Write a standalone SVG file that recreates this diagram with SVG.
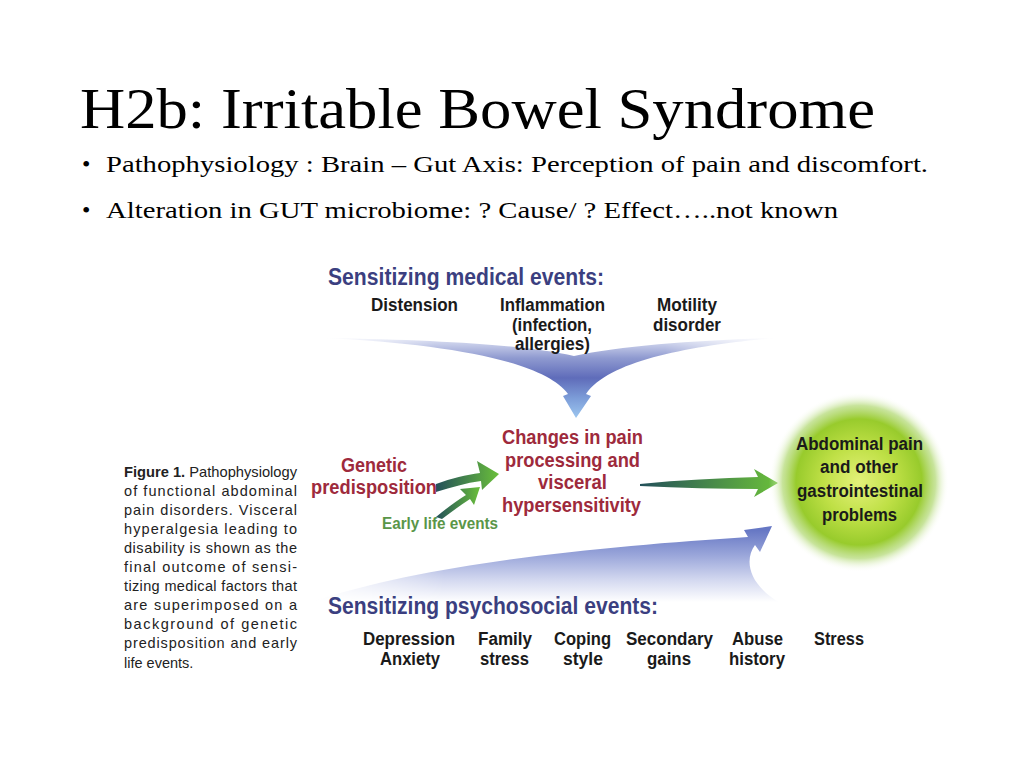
<svg xmlns="http://www.w3.org/2000/svg" width="1024" height="768" viewBox="0 0 1024 768">
<defs>
<style>
.title{font-family:"Liberation Serif",serif;font-size:56px;fill:#000}
.bul{font-family:"Liberation Serif",serif;font-size:24px;fill:#000}
.hd{font-family:"Liberation Sans",Arial,sans-serif;font-size:23px;font-weight:bold;fill:#3b3f80}
.it{font-family:"Liberation Sans",Arial,sans-serif;font-size:18px;font-weight:bold;fill:#1a1a1a}
.red{font-family:"Liberation Sans",Arial,sans-serif;font-size:20px;font-weight:bold;fill:#9e2a3c}
.grn{font-family:"Liberation Sans",Arial,sans-serif;font-size:16px;font-weight:bold;fill:#5a9648}
.cap{font-family:"Liberation Sans",Arial,sans-serif;font-size:14.5px;fill:#222}
</style>
<linearGradient id="funV" gradientUnits="userSpaceOnUse" x1="0" y1="338" x2="0" y2="418">
<stop offset="0" stop-color="#dfe3f4"/>
<stop offset="0.25" stop-color="#8f9ad0"/>
<stop offset="0.5" stop-color="#5f6cba"/>
<stop offset="0.75" stop-color="#7c9cd8"/>
<stop offset="1" stop-color="#9cc6ef"/>
</linearGradient>
<linearGradient id="fadeH" x1="0" y1="0" x2="1" y2="0">
<stop offset="0" stop-color="#000"/>
<stop offset="0.25" stop-color="#fff"/>
<stop offset="0.75" stop-color="#fff"/>
<stop offset="1" stop-color="#000"/>
</linearGradient>
<mask id="m1" maskUnits="userSpaceOnUse" x="300" y="330" width="500" height="100">
<rect x="320" y="330" width="460" height="100" fill="url(#fadeH)"/>
</mask>
<linearGradient id="lowG" gradientUnits="userSpaceOnUse" x1="0" y1="530" x2="0" y2="602">
<stop offset="0" stop-color="#6677c4"/>
<stop offset="0.35" stop-color="#9aa6da"/>
<stop offset="0.7" stop-color="#d4d9f0"/>
<stop offset="1" stop-color="#ffffff"/>
</linearGradient>
<linearGradient id="lowH" x1="0" y1="0" x2="1" y2="0">
<stop offset="0" stop-color="#000"/>
<stop offset="0.3" stop-color="#fff"/>
<stop offset="1" stop-color="#fff"/>
</linearGradient>
<mask id="m2" maskUnits="userSpaceOnUse" x="300" y="520" width="500" height="90">
<rect x="300" y="520" width="480" height="90" fill="url(#lowH)"/>
</mask>
<linearGradient id="ga" x1="0" y1="0" x2="1" y2="0">
<stop offset="0" stop-color="#23505a"/>
<stop offset="1" stop-color="#6abf3a"/>
</linearGradient>
<radialGradient id="glow" cx="0.5" cy="0.5" r="0.5">
<stop offset="0" stop-color="#e4f17a"/>
<stop offset="0.4" stop-color="#bfe046"/>
<stop offset="0.7" stop-color="#98cb2c"/>
<stop offset="0.85" stop-color="#b0d870" stop-opacity="0.7"/>
<stop offset="1" stop-color="#ffffff" stop-opacity="0"/>
</radialGradient>
</defs>
<rect width="1024" height="768" fill="#fff"/>

<g id="title">
<text class="title" x="80" y="128" textLength="795" lengthAdjust="spacingAndGlyphs">H2b: Irritable Bowel Syndrome</text>
</g>
<g id="bullets">
<text class="bul" x="82" y="172">•</text>
<text class="bul" x="106" y="172" textLength="822" lengthAdjust="spacingAndGlyphs">Pathophysiology :  Brain – Gut Axis: Perception of pain and discomfort.</text>
<text class="bul" x="82" y="218">•</text>
<text class="bul" x="106" y="218" textLength="732" lengthAdjust="spacingAndGlyphs">Alteration in GUT microbiome: ?  Cause/ ? Effect…..not known</text>
</g>

<g id="connectors">
<path mask="url(#m1)" d="M 325,338 C 450,340 530,346 574,356 C 620,346 700,340 775,338 C 690,346 610,360 586,394 L 591,396 L 576,418 L 563,396 L 568,394 C 545,362 450,344 325,338 Z" fill="url(#funV)"/>
<path mask="url(#m2)" d="M 312,602 C 430,562 610,546 748,537 L 744,530 L 772,526 L 760,552 L 755,545 C 744,560 748,585 782,604 Z" fill="url(#lowG)"/>
<path d="M 436,484 C 452,478 466,475 480,473 L 477,461 L 499,474 L 482,490 L 481,481 C 466,483 452,487 436,492 Z" fill="url(#ga)"/>
<path d="M 436,517 C 448,507 458,500 466,495 L 460,489 L 480,487 L 474,505 L 470,499 C 461,505 451,512 442,519 Z" fill="url(#ga)"/>
<path d="M 640,484 C 680,480 720,478 758,477 L 754,469 L 778,483 L 754,497 L 758,489 C 720,489 680,488 640,486 Z" fill="url(#ga)"/>
</g>

<g id="medical">
<text class="hd" x="328" y="285" textLength="276" lengthAdjust="spacingAndGlyphs">Sensitizing medical events:</text>
<text class="it" x="371" y="311" textLength="87" lengthAdjust="spacingAndGlyphs">Distension</text>
<text class="it" x="500" y="311" textLength="105" lengthAdjust="spacingAndGlyphs">Inflammation</text>
<text class="it" x="512" y="331" textLength="80" lengthAdjust="spacingAndGlyphs">(infection,</text>
<text class="it" x="515" y="350" textLength="75" lengthAdjust="spacingAndGlyphs">allergies)</text>
<text class="it" x="657" y="311" textLength="60" lengthAdjust="spacingAndGlyphs">Motility</text>
<text class="it" x="653" y="331" textLength="68" lengthAdjust="spacingAndGlyphs">disorder</text>
</g>

<g id="genetic">
<text class="red" x="341" y="472" textLength="66" lengthAdjust="spacingAndGlyphs">Genetic</text>
<text class="red" x="311" y="494" textLength="126" lengthAdjust="spacingAndGlyphs">predisposition</text>
</g>
<g id="early">
<text class="grn" x="382" y="529" textLength="116" lengthAdjust="spacingAndGlyphs">Early life events</text>
</g>
<g id="changes">
<text class="red" x="502" y="444" textLength="141" lengthAdjust="spacingAndGlyphs">Changes in pain</text>
<text class="red" x="505" y="467" textLength="135" lengthAdjust="spacingAndGlyphs">processing and</text>
<text class="red" x="538" y="489" textLength="69" lengthAdjust="spacingAndGlyphs">visceral</text>
<text class="red" x="502" y="512" textLength="139" lengthAdjust="spacingAndGlyphs">hypersensitivity</text>
</g>
<g id="outcome">
<circle cx="859" cy="482" r="90" fill="url(#glow)"/>
<text class="it" x="796" y="450" textLength="127" lengthAdjust="spacingAndGlyphs">Abdominal pain</text>
<text class="it" x="820" y="473" textLength="78" lengthAdjust="spacingAndGlyphs">and other</text>
<text class="it" x="797" y="497" textLength="126" lengthAdjust="spacingAndGlyphs">gastrointestinal</text>
<text class="it" x="822" y="521" textLength="75" lengthAdjust="spacingAndGlyphs">problems</text>
</g>

<g id="psychosocial">
<text class="hd" x="328" y="614" textLength="330" lengthAdjust="spacingAndGlyphs">Sensitizing psychosocial events:</text>
<text class="it" x="363" y="645" textLength="92" lengthAdjust="spacingAndGlyphs">Depression</text>
<text class="it" x="380" y="665" textLength="60" lengthAdjust="spacingAndGlyphs">Anxiety</text>
<text class="it" x="478" y="645" textLength="54" lengthAdjust="spacingAndGlyphs">Family</text>
<text class="it" x="480" y="665" textLength="49" lengthAdjust="spacingAndGlyphs">stress</text>
<text class="it" x="554" y="645" textLength="57" lengthAdjust="spacingAndGlyphs">Coping</text>
<text class="it" x="563" y="665" textLength="40" lengthAdjust="spacingAndGlyphs">style</text>
<text class="it" x="626" y="645" textLength="87" lengthAdjust="spacingAndGlyphs">Secondary</text>
<text class="it" x="647" y="665" textLength="44" lengthAdjust="spacingAndGlyphs">gains</text>
<text class="it" x="732" y="645" textLength="51" lengthAdjust="spacingAndGlyphs">Abuse</text>
<text class="it" x="729" y="665" textLength="56" lengthAdjust="spacingAndGlyphs">history</text>
<text class="it" x="814" y="645" textLength="50" lengthAdjust="spacingAndGlyphs">Stress</text>
</g>

<g id="caption">
<text class="cap" x="124" y="477" textLength="173" lengthAdjust="spacingAndGlyphs"><tspan font-weight="bold">Figure 1.</tspan> Pathophysiology</text>
<text class="cap" x="124" y="496" textLength="173" lengthAdjust="spacing">of functional abdominal</text>
<text class="cap" x="124" y="515" textLength="173" lengthAdjust="spacing">pain disorders. Visceral</text>
<text class="cap" x="124" y="534" textLength="173" lengthAdjust="spacing">hyperalgesia leading to</text>
<text class="cap" x="124" y="553" textLength="173" lengthAdjust="spacing">disability is shown as the</text>
<text class="cap" x="124" y="572" textLength="173" lengthAdjust="spacing">final outcome of sensi-</text>
<text class="cap" x="124" y="591" textLength="173" lengthAdjust="spacing">tizing medical factors that</text>
<text class="cap" x="124" y="610" textLength="173" lengthAdjust="spacing">are superimposed on a</text>
<text class="cap" x="124" y="629" textLength="173" lengthAdjust="spacing">background of genetic</text>
<text class="cap" x="124" y="648" textLength="173" lengthAdjust="spacing">predisposition and early</text>
<text class="cap" x="124" y="668">life events.</text>
</g>
</svg>
